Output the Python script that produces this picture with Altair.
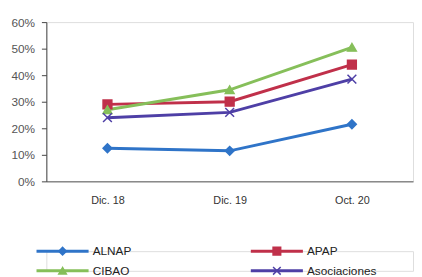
import altair as alt
import pandas as pd

periods = ["Dic. 18", "Dic. 19", "Oct. 20"]
series = ["ALNAP", "APAP", "CIBAO", "Asociaciones"]
alnap = [0.125, 0.115, 0.215]
apap = [0.29, 0.30, 0.44]
cibao = [0.27, 0.345, 0.505]
asoc = [0.24, 0.26, 0.385]
colors = ["#2f74c8", "#c0304a", "#86bf5a", "#4e3fa6"]
shapes = ["diamond", "square", "triangle-up", "M-1,-1L1,1M-1,1L1,-1"]
y_ticks = [0, 0.1, 0.2, 0.3, 0.4, 0.5, 0.6]
legend_col = [0, 1, 0, 1]
legend_row = [0, 0, 1, 1]

rows = []
for name, vals in zip(series, [alnap, apap, cibao, asoc]):
    for p, v in zip(periods, vals):
        rows.append({"series": name, "period": p, "value": v})
df = pd.DataFrame(rows)

leg = pd.DataFrame({"series": series, "col": legend_col, "row": legend_row})

FONT = "Liberation Sans"
color_enc = alt.Color("series:N", scale=alt.Scale(domain=series, range=colors), legend=None)
shape_enc = alt.Shape("series:N", scale=alt.Scale(domain=series, range=shapes), legend=None)

base = alt.Chart(df).encode(
    x=alt.X("period:N", sort=periods, title=None,
            axis=alt.Axis(labelAngle=0, ticks=False, domainColor="#8a8a8a", domainWidth=1.5,
                          labelPadding=14, labelFontSize=11, labelColor="#333", labelFont=FONT)),
    y=alt.Y("value:Q", scale=alt.Scale(domain=[0, 0.6]), title=None,
            axis=alt.Axis(values=y_ticks, format=".0%", grid=False, domainColor="#444",
                          tickColor="#444", tickSize=5, labelPadding=7, labelFontSize=12,
                          labelColor="#555", labelFont=FONT)),
    color=color_enc,
)
lines = base.mark_line(strokeWidth=3)
pts = base.mark_point(filled=True, size=80, strokeWidth=1.5, opacity=1).encode(
    shape=shape_enc, stroke=color_enc)
main = alt.layer(lines, pts).properties(width=373, height=162)

lx = alt.Scale(domain=[0, 1], range=[-10, 208])
ly = alt.Scale(domain=[0, 1], range=[0, 20])
lbase = alt.Chart(leg).transform_calculate(
    colEnd="datum.col + 0.243", colMid="datum.col + 0.1216", colText="datum.col + 0.262"
)
lrule = lbase.mark_rule(strokeWidth=3).encode(
    x=alt.X("col:Q", scale=lx, axis=None), x2="colEnd:Q",
    y=alt.Y("row:Q", scale=ly, axis=None), color=color_enc)
lpt = lbase.mark_point(filled=True, size=60, strokeWidth=1.5, opacity=1).encode(
    x=alt.X("colMid:Q", scale=lx, axis=None), y=alt.Y("row:Q", scale=ly, axis=None),
    color=color_enc, stroke=color_enc, shape=shape_enc)
ltext = lbase.mark_text(align="left", baseline="middle", fontSize=12, font=FONT, color="#222").encode(
    x=alt.X("colText:Q", scale=lx, axis=None), y=alt.Y("row:Q", scale=ly, axis=None),
    text="series:N")
legend = alt.layer(lrule, lpt, ltext).properties(width=373, height=20)

chart = alt.vconcat(main, legend, spacing=37).properties(
    padding={"left": 2, "top": 5, "right": 0, "bottom": 0}
).configure_view(stroke=None).configure(background="white")

chart.save("out.html", embed_options={"renderer": "svg", "actions": False})
